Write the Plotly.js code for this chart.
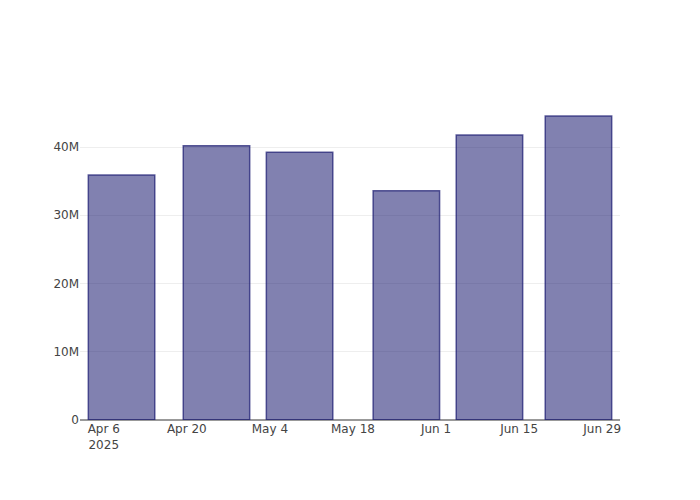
<!DOCTYPE html>
<html>
<head>
<meta charset="utf-8">
<script src="https://cdn.plot.ly/plotly-3.0.1.min.js"></script>
<style>html,body{margin:0;padding:0;background:#fff;}#chart{width:700px;height:500px;}</style>
</head>
<body>
<div id="chart"></div>
<script>
const dates = ['2025-04-09', '2025-04-25', '2025-05-09', '2025-05-27', '2025-06-10', '2025-06-25'];
const values = [35.9e6, 40.2e6, 39.25e6, 33.6e6, 41.75e6, 44.55e6];

const trace = {
  type: 'bar',
  x: dates,
  y: values,
  marker: {
    color: 'rgba(25,25,112,0.55)',
    line: {color: 'rgba(25,25,112,0.7)', width: 1.5}
  }
};

const layout = {
  width: 700,
  height: 500,
  margin: {l: 80, r: 80, t: 100, b: 80},
  paper_bgcolor: '#fff',
  plot_bgcolor: '#fff',
  font: {family: 'DejaVu Sans, sans-serif', size: 12, color: '#444'},
  showlegend: false,
  xaxis: {
    type: 'date',
    showgrid: false,
    zeroline: false,
    showline: false,
    ticks: '',
    tick0: '2025-04-06',
    dtick: 14 * 86400000
  },
  yaxis: {
    showgrid: true,
    gridcolor: '#eee',
    zeroline: true,
    zerolinecolor: '#999',
    zerolinewidth: 2,
    ticks: '',
    tickformat: '~s'
  }
};

Plotly.newPlot('chart', [trace], layout, {displayModeBar: false});
</script>
</body>
</html>
